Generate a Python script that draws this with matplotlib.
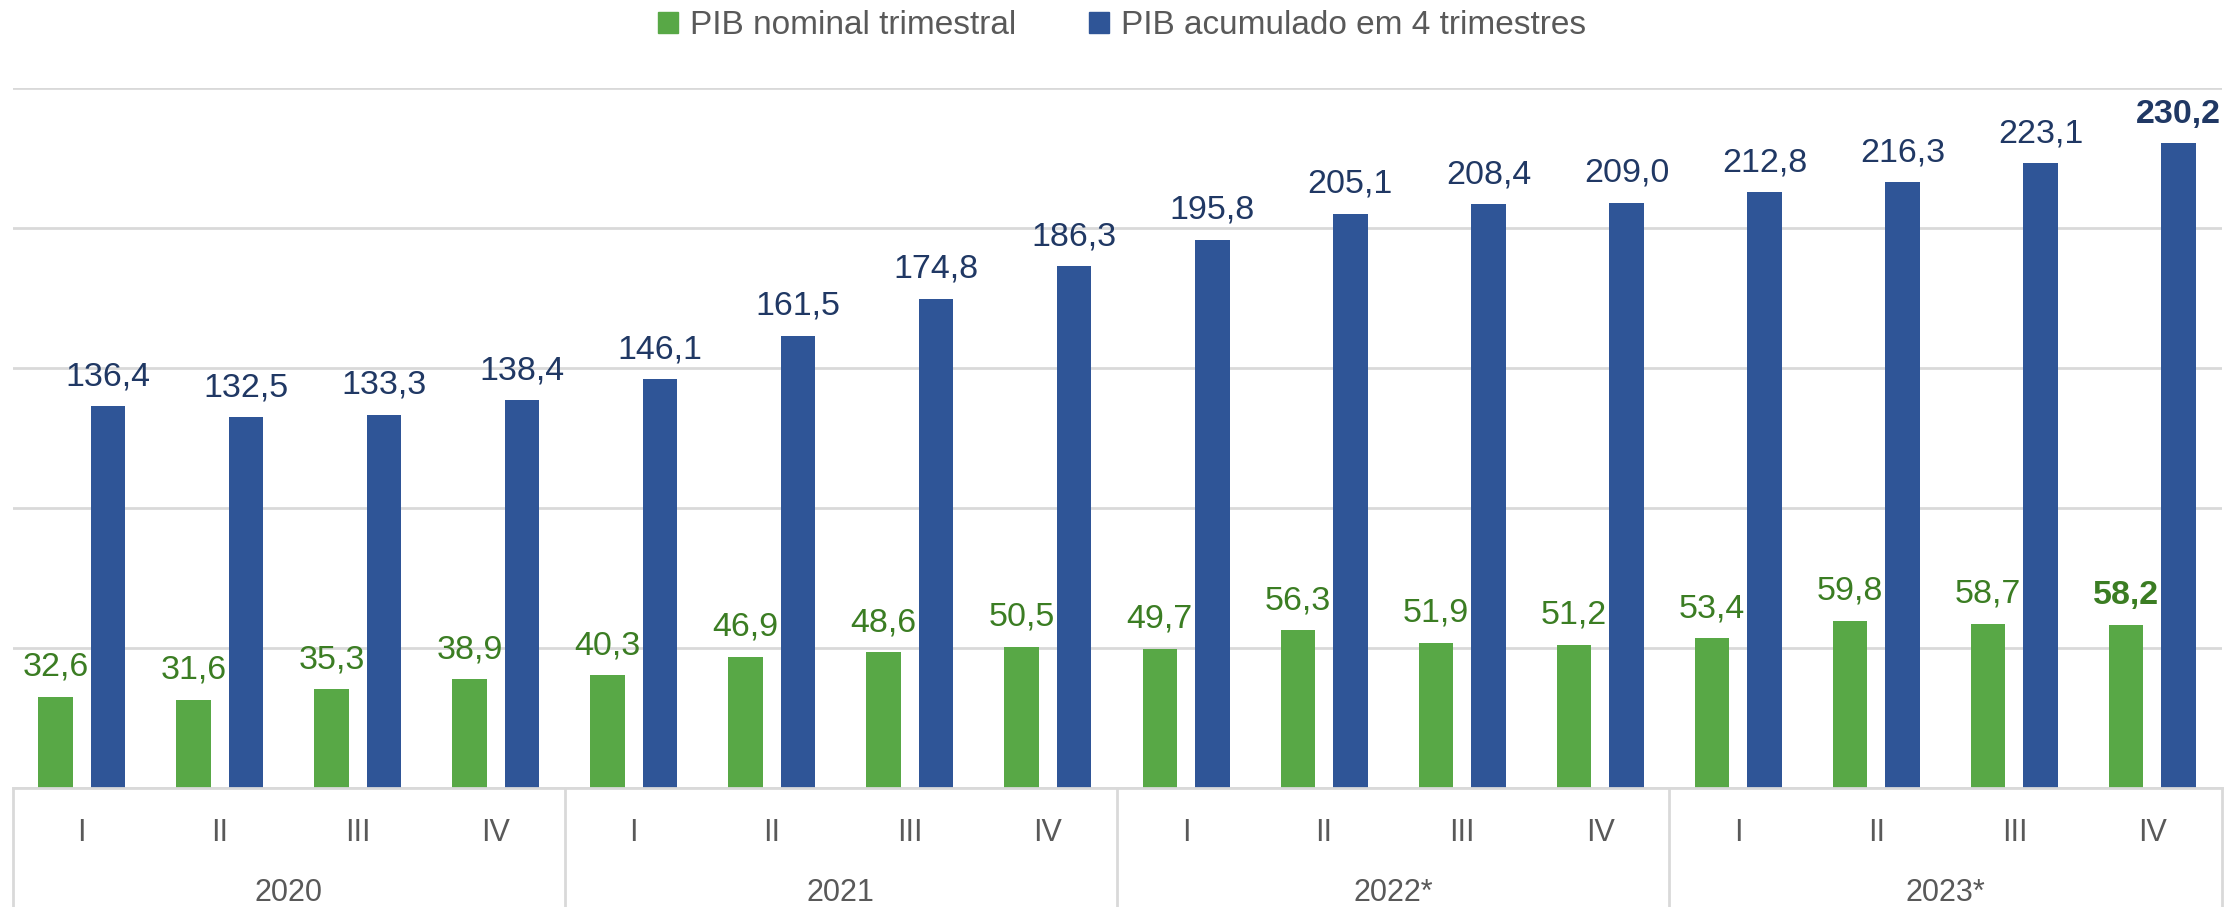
import numpy as np
import matplotlib
matplotlib.use('Agg')
import matplotlib.pyplot as plt
from matplotlib.patches import Patch

# dados (PIB, mil milhões)
anos = ['2020', '2021', '2022*', '2023*']
trimestres = ['I', 'II', 'III', 'IV']
pib_trimestral = [32.6, 31.6, 35.3, 38.9, 40.3, 46.9, 48.6, 50.5,
                  49.7, 56.3, 51.9, 51.2, 53.4, 59.8, 58.7, 58.2]
pib_acumulado = [136.4, 132.5, 133.3, 138.4, 146.1, 161.5, 174.8, 186.3,
                 195.8, 205.1, 208.4, 209.0, 212.8, 216.3, 223.1, 230.2]

verde = '#58A846'
azul = '#2F5597'
verde_txt = '#3B7D23'
azul_txt = '#203864'
cinza = '#D9D9D9'
texto = '#595959'

plt.rcParams['font.family'] = ['Liberation Sans', 'DejaVu Sans']

W, H = 2226, 907
fig = plt.figure(figsize=(W / 100, H / 100), dpi=100, facecolor='w')
ax = fig.add_axes([12.5 / W, 119 / H, 2209 / W, 700 / H])

x = np.arange(len(pib_trimestral))
b1 = ax.bar(x - 0.19, pib_trimestral, 0.25, color=verde, zorder=2)
b2 = ax.bar(x + 0.19, pib_acumulado, 0.25, color=azul, zorder=2)

fmt = lambda v: ('%.1f' % v).replace('.', ',')
t1 = ax.bar_label(b1, labels=[fmt(v) for v in pib_trimestral], padding=10,
                  fontsize=24.5, color=verde_txt)
t2 = ax.bar_label(b2, labels=[fmt(v) for v in pib_acumulado], padding=10,
                  fontsize=24.5, color=azul_txt)
t1[-1].set_fontweight('bold')
t2[-1].set_fontweight('bold')

ax.set_xlim(-0.5, len(x) - 0.5)
ax.set_ylim(0, 250)
ax.set_yticks(range(0, 251, 50))
ax.yaxis.grid(True, color=cinza, linewidth=2)
ax.set_axisbelow(True)
ax.tick_params(left=False, labelleft=False, bottom=False, labelbottom=False)
for s in ['left', 'right', 'top']:
    ax.spines[s].set_visible(False)
ax.spines['bottom'].set_color(cinza)
ax.spines['bottom'].set_linewidth(2)

# eixo de categorias em dois níveis
tr = ax.get_xaxis_transform()
for i in x:
    ax.text(i, -53 / 700, trimestres[i % 4], transform=tr, ha='center',
            va='baseline', fontsize=22, color=texto)
for k, ano in enumerate(anos):
    ax.text(4 * k + 1.5, -113 / 700, ano, transform=tr, ha='center',
            va='baseline', fontsize=22, color=texto)
for k in range(len(anos) + 1):
    ax.plot([4 * k - 0.5, 4 * k - 0.5], [0, -0.2], transform=tr,
            color=cinza, linewidth=2, clip_on=False)

handles = [Patch(color=verde), Patch(color=azul)]
fig.legend(handles, ['PIB nominal trimestral', 'PIB acumulado em 4 trimestres'],
           loc='center', bbox_to_anchor=(1122 / W, 1 - 26 / H), ncol=2,
           frameon=False, fontsize=24, labelcolor=texto, handlelength=0.6,
           handleheight=0.6, handletextpad=0.35, columnspacing=2.2)

plt.savefig('out.png', dpi=100)
